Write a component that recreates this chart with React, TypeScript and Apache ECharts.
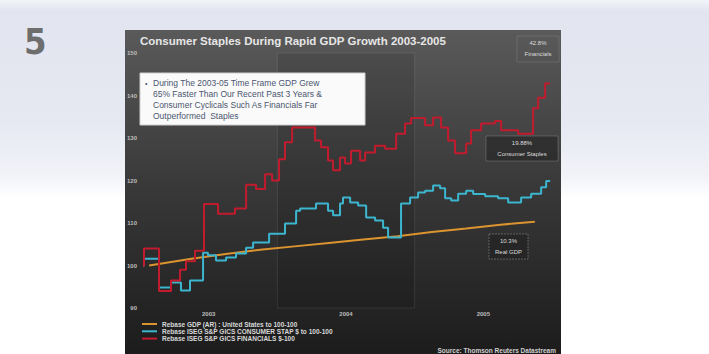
import React, { useEffect, useRef } from "react";
import * as echarts from "echarts";

// x values are months since Jan 2003; y values are rebased indices (start = 100)
const yearLabels = ["2003", "2004", "2005"];
const yearLabelMonths = [6, 18, 30];
const shadedYear = [12, 24];

const gdpMonths = [0.8, 4.5, 7.5, 10.5, 13.5, 16.5, 19.5, 22.5, 25.5, 28.5, 31.5, 34.5];
const gdpValues = [100, 101.6, 102.7, 103.7, 104.5, 105.3, 106.1, 106.9, 107.9, 108.7, 109.6, 110.3];

const stapMonths = [0.26, 0.35, 1.66, 2.71, 3.58, 4.37, 5.51, 5.94, 6.64, 7.52, 8.39, 9.27, 9.88, 11.28, 12.67, 13.64, 13.99, 15.38, 16.43, 16.87, 17.48, 17.74, 18.36, 19.06, 19.76, 20.54, 21.24, 21.68, 22.55, 22.81, 23.6, 24.3, 24.91, 25.61, 26.22, 26.66, 27.19, 27.8, 28.5, 29.11, 30.16, 31.29, 32.17, 33.3, 34.18, 35.05, 35.49, 35.84];
const stapValues = [100, 101.6, 94.8, 96, 94.1, 96.5, 103, 102.4, 101.2, 101.9, 102.8, 104.2, 105.4, 107.5, 109.9, 112.9, 113.4, 114.6, 112.9, 111.8, 114.6, 116, 114.8, 114.1, 111.3, 110.6, 108.9, 106.6, 106.6, 114.6, 116, 117.2, 117.6, 118.8, 118.2, 115.8, 115.3, 116.9, 117.6, 116.8, 116.3, 115.8, 114.8, 116, 116.9, 118.4, 119.9, 119.9];

const finMonths = [0.26, 0.35, 1.66, 2.71, 3.5, 4.02, 4.81, 5.59, 6.82, 8.3, 9.27, 10.14, 10.93, 11.54, 12.15, 12.67, 13.29, 15.3, 15.82, 16.43, 16.87, 17.48, 17.92, 18.44, 19.23, 19.67, 20.54, 21.42, 22.38, 23.16, 23.69, 24.91, 25.61, 26.31, 26.92, 27.53, 28.5, 28.93, 29.81, 31.03, 31.56, 33.04, 34.35, 34.79, 35.4, 35.84];
const finValues = [100, 104, 94, 96.5, 99, 101, 103.5, 114.5, 112.2, 113.4, 119, 118, 121.5, 120, 125, 129, 132.5, 129.4, 127.8, 124.7, 122.4, 125.4, 124, 127, 124.7, 126.6, 128.2, 127.5, 131, 133.4, 134.7, 133, 134.8, 132.5, 129.4, 126.4, 128.7, 131.8, 133.4, 134, 131.8, 131, 137, 139.5, 142.8, 142.8];

const legendNames = [
  "Rebase GDP (AR) : United States to 100-100",
  "Rebase ISEG S&P GICS CONSUMER STAP $ to 100-100",
  "Rebase ISEG S&P GICS FINANCIALS $-100",
];
const seriesColors = ["#dc9430", "#3cb6cf", "#c21b2e"];

const title = "Consumer Staples During Rapid GDP Growth 2003-2005";
const noteLines = [
  "During The 2003-05 Time Frame GDP Grew",
  "65% Faster Than Our Recent Past 3 Years &",
  "Consumer Cyclicals Such As Financials Far",
  "Outperformed  Staples",
];
const endLabels = [
  ["42.8%", "Financials"],
  ["19.88%", "Consumer Staples"],
  ["10.3%", "Real GDP"],
];
const sourceText = "Source: Thomson Reuters Datastream";
const pageNumber = "5";

const zip = (a: number[], b: number[]) => a.map((v, i) => [v, b[i]]);

export default function App() {
  const ref = useRef<HTMLDivElement>(null);
  useEffect(() => {
    if (!ref.current) return;
    const chart = echarts.init(ref.current, null, { renderer: "svg" });
    const font = "Arial, 'Liberation Sans', sans-serif";
    const labelText = (x: number, y: number, text: string, size: number, color: string, extra: any = {}) => ({
      type: "text",
      x,
      y,
      z: 100,
      style: { text, fill: color, font: `${extra.weight || "normal"} ${size}px ${font}`, textAlign: extra.align || "left", textVerticalAlign: "middle" },
    });
    const graphic: any[] = [
      {
        type: "rect",
        z: -10,
        shape: { x: 125, y: 30, width: 436, height: 330 },
        style: {
          fill: {
            type: "linear", x: 0, y: 0, x2: 0, y2: 1,
            colorStops: [
              { offset: 0, color: "#5a5a5a" },
              { offset: 0.45, color: "#3a3a3a" },
              { offset: 1, color: "#1b1b1b" },
            ],
          },
        },
      },
      {
        type: "text", x: 24, y: 41, z: 100,
        style: { text: pageNumber, fill: "#6e6e6e", font: "bold 36px 'Liberation Sans Narrow', 'DejaVu Sans Condensed', sans-serif", textVerticalAlign: "middle" },
      },
      labelText(140, 41, title, 11.5, "#e6e6e6", { weight: "bold" }),
      {
        type: "rect", z: 99,
        shape: { x: 140, y: 73, width: 225, height: 52 },
        style: { fill: "#fafafa", stroke: "#cfcfcf", lineWidth: 1 },
      },
      labelText(145, 83, "\u2022", 7, "#4a5670"),
      ...noteLines.map((t, i) => labelText(153, 83 + i * 11, t, 8.5, "#4a5670")),
      // end labels
      { type: "rect", z: 90, shape: { x: 517, y: 36, width: 42, height: 26 }, style: { fill: "rgba(0,0,0,0)", stroke: "rgba(255,255,255,0.12)", lineWidth: 1 } },
      labelText(538, 43, endLabels[0][0], 6, "#dddddd", { align: "center" }),
      labelText(538, 54, endLabels[0][1], 6, "#dddddd", { align: "center" }),
      { type: "rect", z: 90, shape: { x: 486, y: 136, width: 72, height: 25 }, style: { fill: "rgba(30,30,30,0.5)", stroke: "rgba(255,255,255,0.18)", lineWidth: 1 } },
      labelText(522, 143, endLabels[1][0], 6, "#dddddd", { align: "center" }),
      labelText(522, 154, endLabels[1][1], 6, "#dddddd", { align: "center" }),
      { type: "rect", z: 90, shape: { x: 489, y: 234, width: 39, height: 25 }, style: { fill: "rgba(30,30,30,0.5)", stroke: "rgba(255,255,255,0.25)", lineWidth: 1, lineDash: [2, 1] } },
      labelText(508.5, 241, endLabels[2][0], 6, "#dddddd", { align: "center" }),
      labelText(508.5, 252, endLabels[2][1], 6, "#dddddd", { align: "center" }),
      // legend
      ...legendNames.flatMap((name, i) => [
        { type: "line", z: 100, shape: { x1: 142, y1: 324 + i * 7.3, x2: 157, y2: 324 + i * 7.3 }, style: { stroke: seriesColors[i], lineWidth: 2 } },
        labelText(162, 324 + i * 7.3, name, 6.5, "#d8d8d8", { weight: "bold" }),
      ]),
      labelText(556, 350, sourceText, 6.5, "#d0d0d0", { align: "right", weight: "bold" }),
    ];

    const option: any = {
      animation: false,
      backgroundColor: "transparent",
      grid: { left: 140, right: 157, top: 53, bottom: 46, containLabel: false },
      xAxis: {
        type: "value",
        min: 0,
        max: 36,
        interval: 6,
        axisLine: { show: false },
        axisTick: { show: false },
        splitLine: { show: false },
        axisLabel: {
          fontSize: 6,
          color: "#bdbdbd",
          margin: 3,
          fontWeight: "bold",
          formatter: (v: number) => {
            const k = yearLabelMonths.indexOf(v);
            return k >= 0 ? yearLabels[k] : "";
          },
        },
      },
      yAxis: {
        type: "value",
        min: 90,
        max: 150,
        interval: 10,
        axisLine: { show: false },
        axisTick: { show: false },
        splitLine: { show: false },
        axisLabel: { fontSize: 6, color: "#bdbdbd", margin: 3, fontWeight: "bold" },
      },
      series: [
        {
          name: legendNames[0],
          type: "line",
          data: zip(gdpMonths, gdpValues),
          symbol: "none",
          lineStyle: { color: seriesColors[0], width: 2 },
          z: 3,
          markArea: {
            silent: true,
            itemStyle: { color: "rgba(0,0,0,0.10)", borderColor: "rgba(255,255,255,0.09)", borderWidth: 1 },
            data: [[{ xAxis: shadedYear[0], yAxis: 150 }, { xAxis: shadedYear[1], yAxis: 90 }]],
          },
          markLine: {
            silent: true,
            symbol: "none",
            label: { show: false },
            lineStyle: { color: "#8c8c8c", width: 1, type: "solid" },
            data: [[{ coord: [0, 100] }, { coord: [36.3, 100] }]],
          },
        },
        {
          name: legendNames[1],
          type: "line",
          step: "end",
          data: zip(stapMonths, stapValues),
          symbol: "none",
          lineStyle: { color: seriesColors[1], width: 2 },
          z: 4,
        },
        {
          name: legendNames[2],
          type: "line",
          step: "end",
          data: zip(finMonths, finValues),
          symbol: "none",
          lineStyle: { color: seriesColors[2], width: 2 },
          z: 5,
        },
      ],
      graphic,
    };
    chart.setOption(option);
    return () => chart.dispose();
  }, []);

  return (
    <div
      ref={ref}
      style={{
        position: "absolute",
        left: 0,
        top: 0,
        width: 709,
        height: 354,
        background:
          "linear-gradient(to bottom, #f3f4f9 0%, #e2e5ef 3%, #e6e9f2 35%, #f2f3f8 50%, #ffffff 56%, #ffffff 100%)",
      }}
    />
  );
}
